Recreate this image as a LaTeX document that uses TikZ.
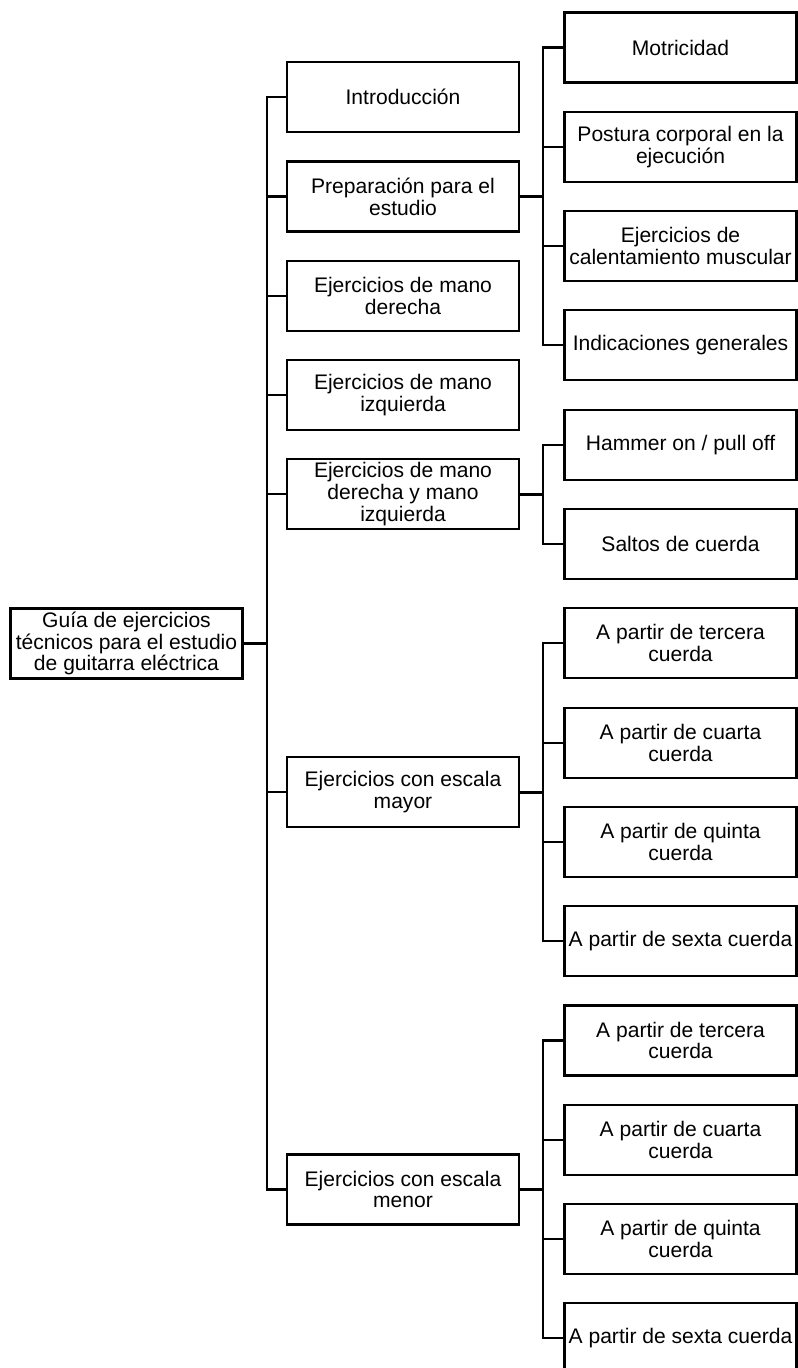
\documentclass[tikz,border=0pt]{standalone}
\usepackage{fontspec}
\setmainfont{Liberation Sans}
\begin{document}
\begin{tikzpicture}[x=0.75pt,y=-0.75pt,
		box/.style={draw,line width=1.6pt,minimum width=174pt,minimum height=52.5pt,inner sep=0pt,align=center,font=\fontsize{15.8}{16.4}\selectfont},
		link/.style={line width=1.6pt},
		stub/.style={line width=2.2pt}]
			\useasboundingbox (0,0) rectangle (798,1368);
			\def\first{47.5}
			\def\gap{99.3}
			%root
			\node[box] (root) at (126.5,643.5) {Guía de ejercicios\\técnicos para el estudio\\de guitarra eléctrica};
			%first level
			\node[box] (intro) at (403,\first+0.5*\gap) {Introducción};
			\node[box] (prep) at (403,\first+1.5*\gap) {Preparación para el\\estudio};
			\node[box] (derecha) at (403,\first+2.5*\gap) {Ejercicios de mano\\derecha};
			\node[box] (izquierda) at (403,\first+3.5*\gap) {Ejercicios de mano\\izquierda};
			\node[box] (ambas) at (403,\first+4.5*\gap) {Ejercicios de mano\\derecha y mano\\izquierda};
			\node[box] (mayor) at (403,\first+7.5*\gap) {Ejercicios con escala\\mayor};
			\node[box] (menor) at (403,\first+11.5*\gap) {Ejercicios con escala\\menor};
			%second level
			\foreach \t [count=\i] in {Motricidad,{Postura corporal en la\\ejecución},{Ejercicios de\\calentamiento muscular},Indicaciones generales,
				Hammer on / pull off,Saltos de cuerda,
				{A partir de tercera\\cuerda},{A partir de cuarta\\cuerda},{A partir de quinta\\cuerda},A partir de sexta cuerda,
				{A partir de tercera\\cuerda},{A partir de cuarta\\cuerda},{A partir de quinta\\cuerda},A partir de sexta cuerda}
				\node[box] (s\i) at (680.5,{\first+(\i-1)*\gap}) {\t};
			% links
			\foreach \n in {intro,prep,derecha,izquierda,ambas,mayor,menor}
				\draw[link] (root.east) -- ++(23,0) |- (\n.west);
			\foreach \i in {1,...,4}
				\draw[link] (prep.east) -- ++(23,0) |- (s\i.west);
			\foreach \i in {5,6}
				\draw[link] (ambas.east) -- ++(23,0) |- (s\i.west);
			\foreach \i in {7,...,10}
				\draw[link] (mayor.east) -- ++(23,0) |- (s\i.west);
			\foreach \i in {11,...,14}
				\draw[link] (menor.east) -- ++(23,0) |- (s\i.west);
			% shared stubs
			\foreach \n in {root,prep,ambas,mayor,menor}
				\draw[stub] (\n.east) -- ++(23,0);
		\end{tikzpicture}
\end{document}
